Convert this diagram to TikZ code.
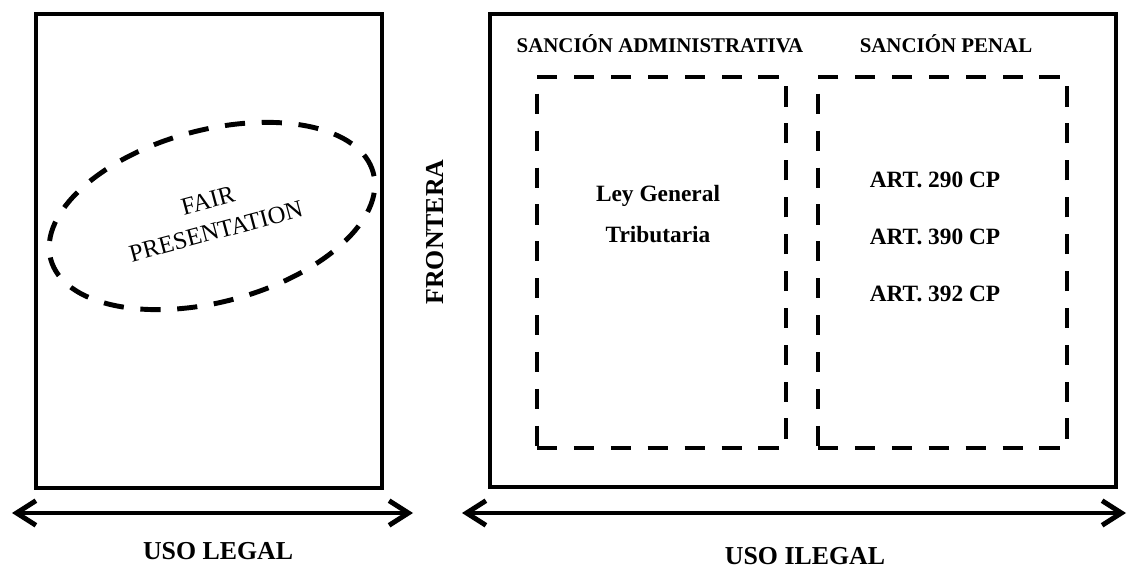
\documentclass[tikz,border=0pt]{standalone}
\usepackage{fontspec}
\setmainfont{Liberation Serif}
\usetikzlibrary{shapes.geometric, arrows.meta}

\begin{document}
\begin{tikzpicture}[x=0.02cm, y=-0.02cm,
  outerbox/.style={draw, line width=2.6pt, inner sep=0pt},
  dashbox/.style={draw, line width=2.8pt, dash pattern=on 11.5pt off 9.5pt, inner sep=0pt},
  hdr/.style={font=\bfseries\fontsize{11.9}{14}\selectfont, anchor=base},
  body/.style={font=\bfseries\fontsize{13.3}{16}\selectfont, anchor=base},
  lbl/.style={font=\bfseries\fontsize{14.7}{17}\selectfont, anchor=base, text depth=0pt},
  biarrow/.style={line width=2.8pt, line cap=round,
    {Straight Barb[length=11pt,width=14pt]}-{Straight Barb[length=11pt,width=14pt]}}]
\useasboundingbox (0,0) rectangle (1130,567);

% left side
\node[outerbox, minimum width=6.92cm, minimum height=9.48cm] (legal) at (209,251) {};
\node[dashbox, ellipse, rotate=15, minimum width=6.68cm, minimum height=3.44cm,
  align=center, font=\fontsize{14}{18}\selectfont] (fair) at (212,216) {FAIR\\PRESENTATION};

% right side
\node[outerbox, minimum width=12.52cm, minimum height=9.46cm] (ilegal) at (803,250.5) {};
\node[dashbox, minimum width=4.98cm, minimum height=7.42cm] (admin) at (661.5,262.5) {};
\node[dashbox, minimum width=4.98cm, minimum height=7.42cm] (penal) at (942.5,262.5) {};

\node[hdr] (hdrAdmin) at (660,53) {SANCIÓN ADMINISTRATIVA};
\node[hdr] (hdrPenal) at (946,53) {SANCIÓN PENAL};

\node[body] (ley) at (658,202) {Ley General};
\node[body] (trib) at (658,243) {Tributaria};
\node[body] (art290) at (935,188) {ART. 290 CP};
\node[body] (art390) at (935,245) {ART. 390 CP};
\node[body] (art392) at (935,302) {ART. 392 CP};

\node[lbl, rotate=90] (frontera) at (443,232) {FRONTERA};

% arrows
\coordinate (legalL) at (12,513);
\coordinate (legalR) at (413,513);
\coordinate (ilegalL) at (462,513);
\coordinate (ilegalR) at (1126,513);
\draw[biarrow] (legalL) -- (legalR);
\draw[biarrow] (ilegalL) -- (ilegalR);

\node[lbl] (usoLegal) at (218,560) {USO LEGAL};
\node[lbl] (usoIlegal) at (805,564) {USO ILEGAL};
\end{tikzpicture}
\end{document}
